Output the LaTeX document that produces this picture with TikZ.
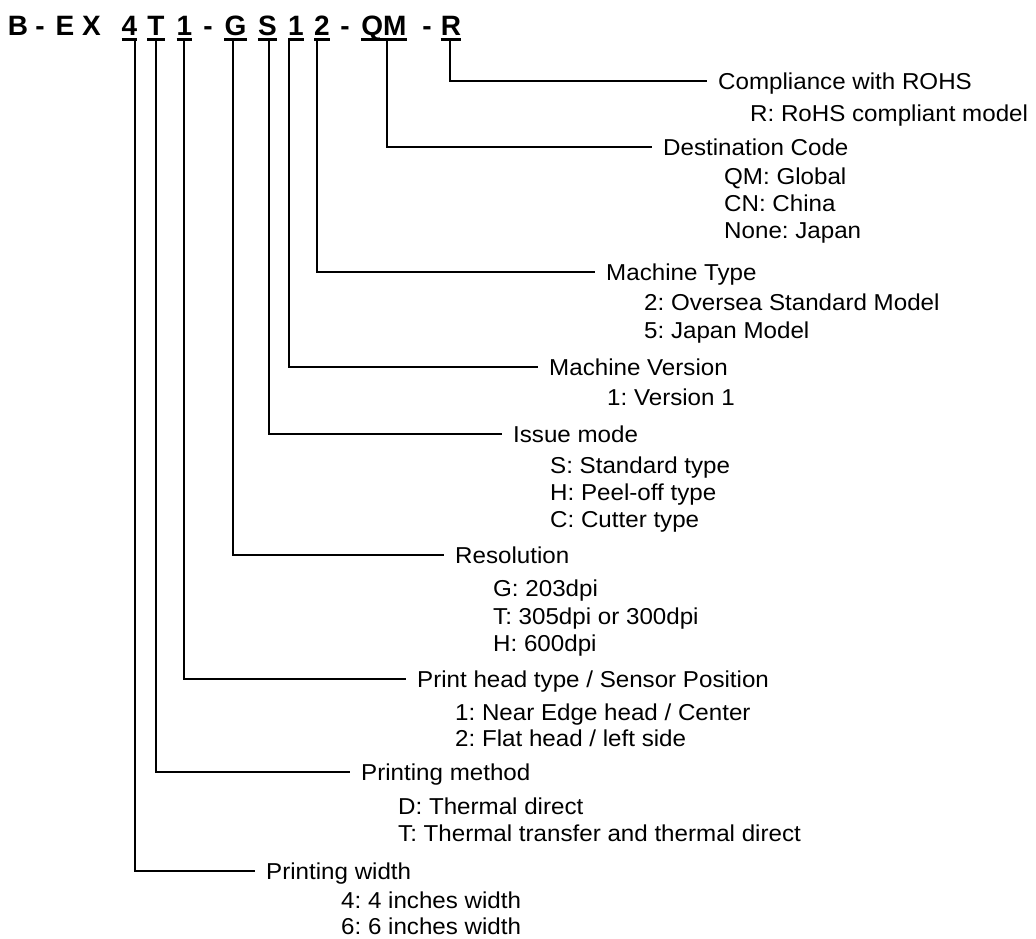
\documentclass[tikz,border=0pt]{standalone}
\usepackage{fontspec}
\setmainfont{Liberation Sans}
\newfontfamily\lblfont{Liberation Sans}[FakeStretch=1.05]
\frenchspacing

\begin{document}
\begin{tikzpicture}[x=1pt,y=-1pt,
  code/.style={font=\fontsize{28}{28}\selectfont\bfseries, inner sep=0pt, anchor=base},
  head/.style={font=\lblfont\fontsize{23}{23}\selectfont, text height=16.5pt, text depth=0pt,
    inner ysep=0pt, inner xsep=11pt, anchor=west},
  item/.style={font=\lblfont\fontsize{23}{23}\selectfont, text height=16.5pt, text depth=0pt,
    inner sep=0pt, anchor=west},
  uline/.style={line width=3pt},
  link/.style={line width=1.5pt}]
\useasboundingbox (0,0) rectangle (1036,938);

% model number
\node[code] (cB) at (18,35) {B};
\node[code] (dash0) at (40,35) {-};
\node[code] (cE) at (65,35) {E};
\node[code] (cX) at (91.5,35) {X};
\node[code] (c4) at (129.5,35) {4};
\node[code] (cT) at (156,35) {T};
\node[code] (c1) at (184.5,35) {1};
\node[code] (dash1) at (208,35) {-};
\node[code] (cG) at (235.5,35) {G};
\node[code] (cS) at (267.5,35) {S};
\node[code] (cV) at (296,35) {1};
\node[code] (c2) at (322,35) {2};
\node[code] (dash2) at (345,35) {-};
\node[code] (cQM) at (384,35) {QM};
\node[code] (dash3) at (427,35) {-};
\node[code] (cR) at (451,35) {R};

% underlines
\draw[uline] ([yshift=-4.5pt]c4.base west) -- ([yshift=-4.5pt]c4.base east);
\draw[uline] ([yshift=-4.5pt]cT.base west) -- ([yshift=-4.5pt]cT.base east);
\draw[uline] ([yshift=-4.5pt]c1.base west) -- ([yshift=-4.5pt]c1.base east);
\draw[uline] ([yshift=-4.5pt]cG.base west) -- ([yshift=-4.5pt]cG.base east);
\draw[uline] ([yshift=-4.5pt]cS.base west) -- ([yshift=-4.5pt]cS.base east);
\draw[uline] ([yshift=-4.5pt]cV.base west) -- ([yshift=-4.5pt]cV.base east);
\draw[uline] ([yshift=-4.5pt]c2.base west) -- ([yshift=-4.5pt]c2.base east);
\draw[uline] ([yshift=-4.5pt]cQM.base west) -- ([yshift=-4.5pt]cQM.base east);
\draw[uline] ([yshift=-4.5pt]cR.base west) -- ([yshift=-4.5pt]cR.base east);

% where the leads leave the underlines
\coordinate (d4) at (135,40);
\coordinate (dT) at (156,40);
\coordinate (d1) at (184,40);
\coordinate (dG) at (233,40);
\coordinate (dS) at (269,40);
\coordinate (dV) at (289,40);
\coordinate (d2) at (317,40);
\coordinate (dQM) at (387,40);
\coordinate (dR) at (450,40);

% R
\node[head] (hR) at (707,81) {Compliance with ROHS};
\node[item] (iRa) at (750,113) {R: RoHS compliant model};

% QM
\node[head] (hQM) at (652,147) {Destination Code};
\node[item] (iQMa) at (724,176) {QM: Global};
\node[item] (iQMb) at (724,203) {CN: China};
\node[item] (iQMc) at (724,230) {None: Japan};

% 2
\node[head] (h2) at (595,272) {Machine Type};
\node[item] (i2a) at (644,302) {2: Oversea Standard Model};
\node[item] (i2b) at (644,330) {5: Japan Model};

% 1 (version)
\node[head] (hV) at (538,367) {Machine Version};
\node[item] (iVa) at (607,397) {1: Version 1};

% S
\node[head] (hS) at (502,434) {Issue mode};
\node[item] (iSa) at (550,465) {S: Standard type};
\node[item] (iSb) at (550,492) {H: Peel-off type};
\node[item] (iSc) at (550,519) {C: Cutter type};

% G
\node[head] (hG) at (444,555) {Resolution};
\node[item] (iGa) at (493,588) {G: 203dpi};
\node[item] (iGb) at (493,616) {T: 305dpi or 300dpi};
\node[item] (iGc) at (493,643) {H: 600dpi};

% 1 (head)
\node[head] (h1) at (406,679) {Print head type / Sensor Position};
\node[item] (i1a) at (455,712) {1: Near Edge head / Center};
\node[item] (i1b) at (455,738) {2: Flat head / left side};

% T
\node[head] (hT) at (350,772) {Printing method};
\node[item] (iTa) at (398,806) {D: Thermal direct};
\node[item] (iTb) at (398,833) {T: Thermal transfer and thermal direct};

% 4
\node[head] (h4) at (255,871) {Printing width};
\node[item] (i4a) at (341,900) {4: 4 inches width};
\node[item] (i4b) at (341,926) {6: 6 inches width};

% leads
\draw[link] (dR) |- (hR.west);
\draw[link] (dQM) |- (hQM.west);
\draw[link] (d2) |- (h2.west);
\draw[link] (dV) |- (hV.west);
\draw[link] (dS) |- (hS.west);
\draw[link] (dG) |- (hG.west);
\draw[link] (d1) |- (h1.west);
\draw[link] (dT) |- (hT.west);
\draw[link] (d4) |- (h4.west);
\end{tikzpicture}
\end{document}
